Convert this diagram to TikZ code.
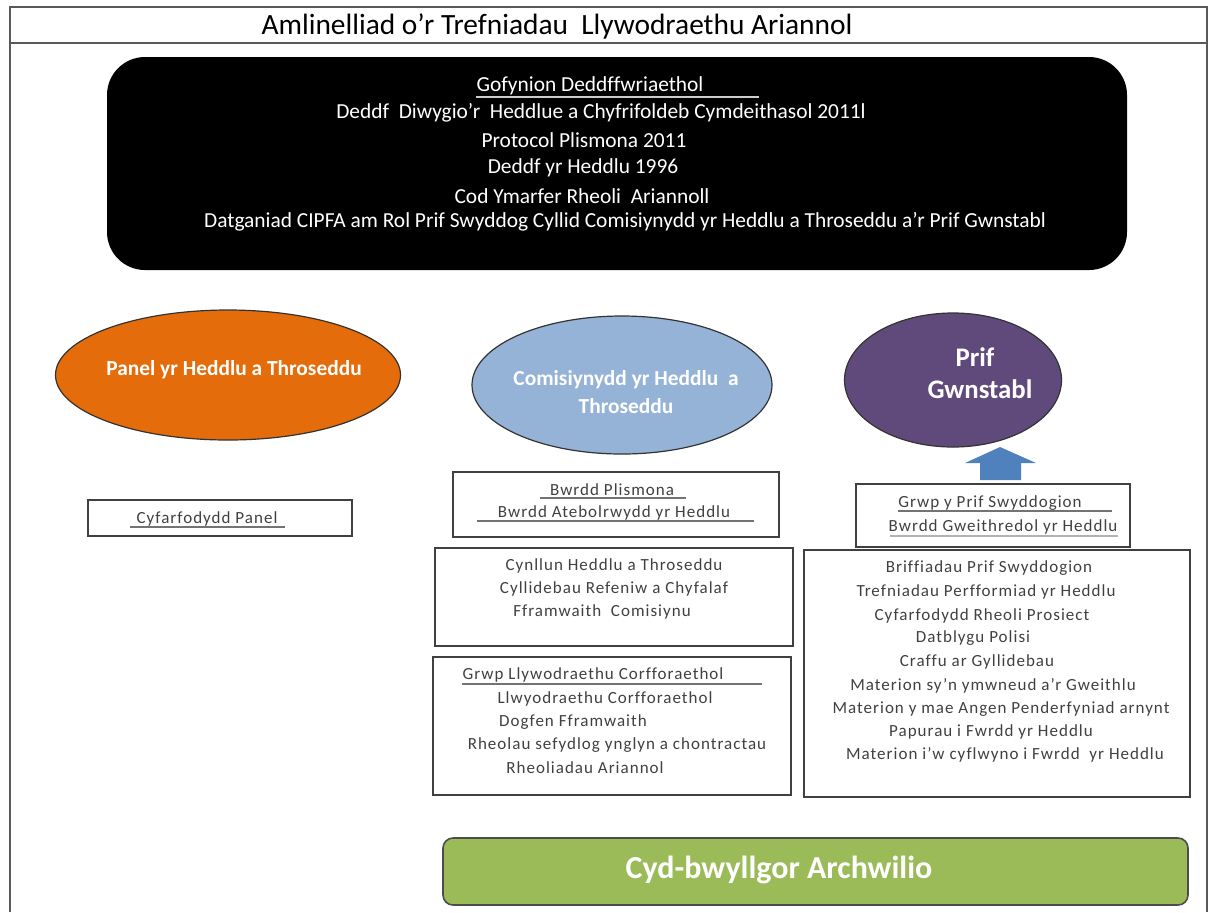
\documentclass[tikz,border=0pt]{standalone}
\usepackage{fontspec}
\setmainfont{Carlito}[Ligatures=CommonOff]
\usetikzlibrary{shapes.geometric,fit}
\definecolor{panelorange}{HTML}{E46C0A}
\definecolor{pccblue}{HTML}{95B3D7}
\definecolor{chiefpurple}{HTML}{604A7B}
\definecolor{arrowblue}{HTML}{4F81BD}
\definecolor{auditgreen}{HTML}{9BBB59}
\definecolor{boxtext}{HTML}{404040}

\begin{document}
\begin{tikzpicture}[x=0.5pt,y=-0.5pt,
    frame line/.style={draw=black!65,line width=1pt},
    box/.style={rectangle,draw=black!75,line width=0.9pt,inner sep=0pt},
    item/.style={text=boxtext,font=\fontsize{8.5}{10}\selectfont\addfontfeature{LetterSpace=6},inner sep=0pt},
    law/.style={text=white,font=\fontsize{10.7}{12}\selectfont,inner sep=0pt},
    body node/.style={ellipse,draw=black!80,line width=0.6pt,inner sep=0pt},
    body text/.style={text=white,font=\bfseries\fontsize{10.7}{12}\selectfont,inner sep=0pt},
    rule/.style={draw=black!55,line width=0.6pt}]
    \useasboundingbox (0,0) rectangle (1208,912);

    % frame and title
    \draw[frame line] (10,912) -- (10,7) -- (1207,7) -- (1207,912);
    \draw[frame line] (10,43) -- (1207,43);
    \node[inner sep=0pt,font=\fontsize{14.7}{16}\selectfont] (title) at (557,26) {Amlinelliad o’r Trefniadau\ \ Llywodraethu Ariannol};

    % legal requirements
    \node[rectangle,fill=black,rounded corners=19pt,inner sep=0pt,fit={(107,57) (1127,270)}] (legal) {};
    \node[law] (law0) at (590,86) {Gofynion Deddffwriaethol};
    \draw[draw=white!80!black,line width=0.6pt] (476,97) -- (759,97);
    \node[law] (law1) at (601,113) {Deddf\ \ Diwygio’r\ \ Heddlue a Chyfrifoldeb Cymdeithasol 2011l};
    \node[law] (law2) at (584,140) {Protocol Plismona 2011};
    \node[law] (law3) at (583,168) {Deddf yr Heddlu 1996};
    \node[law] (law4) at (582,196) {Cod Ymarfer Rheoli\ \ Ariannoll};
    \node[law] (law5) at (625,222) {Datganiad CIPFA am Rol Prif Swyddog Cyllid Comisiynydd yr Heddlu a Throseddu a’r Prif Gwnstabl};

    % bodies
    \node[body node,fill=panelorange,minimum width=172.5pt,minimum height=65pt] (panel) at (228,375) {};
    \node[body text] (paneltext) at (234,370) {Panel yr Heddlu a Throseddu};
    \node[body node,fill=pccblue,minimum width=150pt,minimum height=69pt] (pcc) at (622,385) {};
    \node[body text] (pcctext1) at (626,380) {Comisiynydd yr Heddlu\ \ a};
    \node[body text] (pcctext2) at (626,406) {Throseddu};
    \node[body node,fill=chiefpurple,minimum width=108.5pt,minimum height=67pt] (chief) at (953,380) {};
    \node[body text,font=\bfseries\fontsize{13.4}{15}\selectfont] (chieftext1) at (975,357) {Prif};
    \node[body text,font=\bfseries\fontsize{13.4}{15}\selectfont] (chieftext2) at (980,389) {Gwnstabl};

    % block arrow up to the chief constable
    \fill[arrowblue] (965,463) -- (1000,447) -- (1036,463) -- (1021,463) -- (1021,480) -- (980,480) -- (980,463) -- cycle;

    % meeting boxes
    \node[box,fit={(88,500) (352,536)}] (panelbox) {};
    \node[item] (panelmeet) at (207,519) {Cyfarfodydd Panel};
    \draw[rule] (130,527) -- (285,527);

    \node[box,fit={(453,472) (779,537)}] (boardbox) {};
    \node[item] (board1) at (612,490) {Bwrdd Plismona};
    \draw[rule] (540,498) -- (686,498);
    \node[item] (board2) at (614,513) {Bwrdd Atebolrwydd yr Heddlu};
    \draw[rule] (477,521) -- (754,521);

    \node[box,fit={(856,484) (1130,547)}] (groupbox) {};
    \node[item] (group1) at (990,503) {Grwp y Prif Swyddogion};
    \draw[rule] (898,511) -- (1112,511);
    \node[item] (group2) at (1003,527) {Bwrdd Gweithredol yr Heddlu};
    \draw[rule,draw=black!30] (890,536) -- (1118,536);

    \node[box,fit={(435,548) (793,646)}] (planbox) {};
    \node[item] (plan1) at (614,566) {Cynllun Heddlu a Throseddu};
    \node[item] (plan2) at (614,589) {Cyllidebau Refeniw a Chyfalaf};
    \node[item] (plan3) at (602,612) {Fframwaith\ \ Comisiynu};

    \node[box,fit={(433,657) (791,795)}] (corpbox) {};
    \node[item] (corp1) at (593,675) {Grwp Llywodraethu Corfforaethol};
    \draw[rule] (462,684) -- (762,684);
    \node[item] (corp2) at (605,699) {Llwyodraethu Corfforaethol};
    \node[item] (corp3) at (573,722) {Dogfen Fframwaith};
    \node[item] (corp4) at (617,745) {Rheolau sefydlog ynglyn a chontractau};
    \node[item] (corp5) at (585,768) {Rheoliadau Ariannol};

    \node[box,fit={(804,550) (1190,797)}] (chiefbox) {};
    \node[item] (brief1) at (989,568) {Briffiadau Prif Swyddogion};
    \node[item] (brief2) at (986,592) {Trefniadau Perfformiad yr Heddlu};
    \node[item] (brief3) at (982,616) {Cyfarfodydd Rheoli Prosiect};
    \node[item] (brief4) at (973,638) {Datblygu Polisi};
    \node[item] (brief5) at (977,662) {Craffu ar Gyllidebau};
    \node[item] (brief6) at (993,686) {Materion sy’n ymwneud a’r Gweithlu};
    \node[item] (brief7) at (1001,709) {Materion y mae Angen Penderfyniad arnynt};
    \node[item] (brief8) at (991,732) {Papurau i Fwrdd yr Heddlu};
    \node[item] (brief9) at (1005,755) {Materion i’w cyflwyno i Fwrdd\ \ yr Heddlu};

    % audit committee
    \node[rectangle,fill=auditgreen,draw=black!70,line width=0.8pt,rounded corners=5pt,inner sep=0pt,fit={(443,838) (1188,905)}] (audit) {};
    \node[text=white,font=\bfseries\fontsize{16}{18}\selectfont,inner sep=0pt] (audittext) at (779,870) {Cyd-bwyllgor Archwilio};
\end{tikzpicture}
\end{document}
